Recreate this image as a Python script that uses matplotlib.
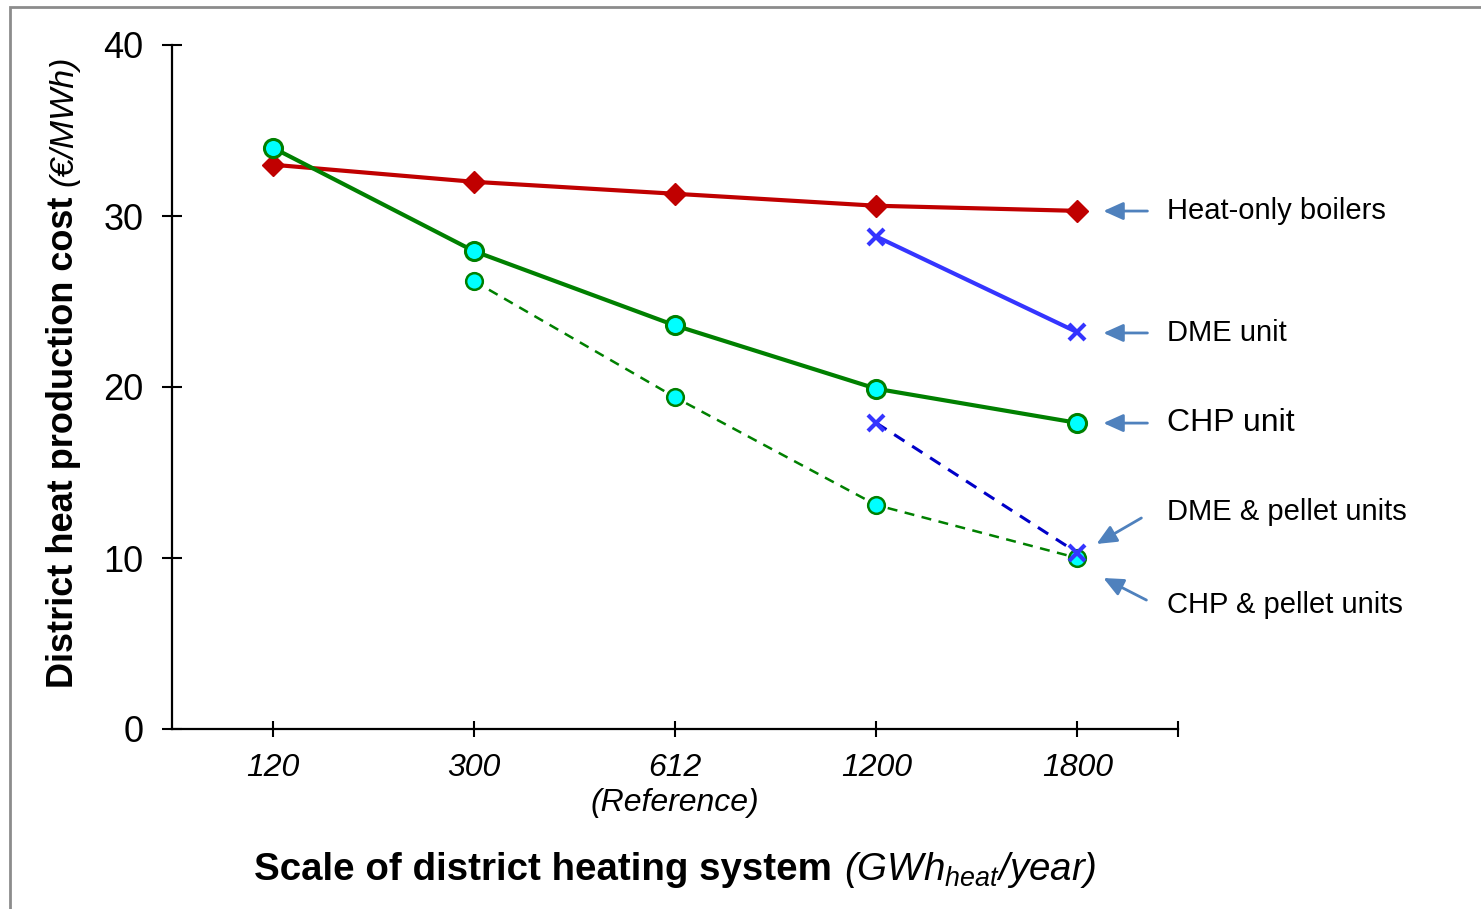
import matplotlib.pyplot as plt
import matplotlib.patches as patches
import numpy as np

plt.rcParams['font.family'] = ['Liberation Sans', 'DejaVu Sans']
plt.rcParams['mathtext.fontset'] = 'custom'
plt.rcParams['mathtext.rm'] = 'Liberation Sans'
plt.rcParams['mathtext.it'] = 'Liberation Sans:italic'
plt.rcParams['mathtext.bf'] = 'Liberation Sans:bold'

# category axis (GWh heat / year)
scales = ['120', '300', '612\n(Reference)', '1200', '1800']

# district heat production cost (EUR/MWh)
heat_only = [33.0, 32.0, 31.3, 30.6, 30.3]
chp_unit = [34.0, 27.95, 23.6, 19.9, 17.9]
chp_pellet = [None, 26.2, 19.4, 13.1, 10.0]
dme_unit = [None, None, None, 28.8, 23.2]
dme_pellet = [None, None, None, 17.9, 10.3]

series_labels = ['Heat-only boilers', 'DME unit', 'CHP unit',
                 'DME & pellet units', 'CHP & pellet units']


def to_arr(vals):
    return np.array([np.nan if v is None else v for v in vals], dtype=float)


W, H = 1481, 909
fig = plt.figure(figsize=(W/100, H/100), dpi=100)
ax = fig.add_axes([172/W, 180/H, (1178-172)/W, (729-45)/H])

x = np.arange(len(scales))

ax.plot(x, to_arr(heat_only), color='#C00000', lw=3, marker='D', ms=11.5,
        mfc='#C00000', mec='#C00000', zorder=3)
ax.plot(x, to_arr(chp_pellet), color='#008000', lw=1.8, ls=(0, (4, 3)),
        marker='o', ms=12, mfc='#00FFFF', mec='#008000', mew=1.8, zorder=3)
ax.plot(x, to_arr(dme_pellet), color='#0000C8', lw=2.2, ls=(0, (4, 3)),
        marker='x', ms=12, mec='#3535FF', mew=3, zorder=4)
ax.plot(x, to_arr(chp_unit), color='#008000', lw=3, marker='o', ms=13,
        mfc='#00FFFF', mec='#008000', mew=2.2, zorder=3)
ax.plot(x, to_arr(dme_unit), color='#3535FF', lw=3, marker='x', ms=12,
        mec='#3535FF', mew=3, zorder=3)

ax.set_xlim(-0.5, 4.5)
ax.set_ylim(0, 40)
ax.set_yticks([0, 10, 20, 30, 40])
ax.set_xticks(x)
ax.set_xticklabels(scales, fontstyle='italic', fontsize=23, linespacing=1.2)
ax.set_xticks([4.5], minor=True)
ax.tick_params(axis='y', labelsize=26, direction='inout', length=15, width=1.5, pad=13)
ax.tick_params(axis='x', which='both', direction='inout', length=11, width=1.5, pad=12)
for s in ['top', 'right']:
    ax.spines[s].set_visible(False)
for s in ['left', 'bottom']:
    ax.spines[s].set_linewidth(1.6)

# labels with arrows at the right side
label_y = [30.29, 23.16, 17.89, 12.69, 7.25]
arrow_tail = [(4.348, 30.29), (4.348, 23.16), (4.348, 17.89), (4.318, 12.34), (4.343, 7.54)]
arrow_head = [(4.129, 30.29), (4.129, 23.16), (4.129, 17.89), (4.095, 10.82), (4.129, 8.83)]
label_size = [21, 21, 23, 21, 21]
for lab, ly, tail, head, fs in zip(series_labels, label_y, arrow_tail, arrow_head, label_size):
    ax.annotate('', xy=head, xytext=tail, annotation_clip=False,
                arrowprops=dict(arrowstyle='-|>,head_length=0.6,head_width=0.27',
                                color='#4F81BD', lw=2, mutation_scale=20,
                                shrinkA=0, shrinkB=0))
    ax.text(4.443, ly, lab, fontsize=fs, ha='left', va='center', clip_on=False)

# axis titles: bold part followed by italic units
renderer = fig.canvas.get_renderer()

xl_bold = fig.text(254/W, 1 - 880/H, 'Scale of district heating system',
                   ha='left', va='baseline', fontsize=27.7, fontweight='bold')
bb = xl_bold.get_window_extent(renderer)
fig.text((bb.x1 + 12)/W, 1 - 880/H, r'(GWh$_{heat}$/year)',
         ha='left', va='baseline', fontsize=27.7, fontstyle='italic')

yl_bold = fig.text(64/W, 1 - 688/H, 'District heat production cost',
                   rotation=90, ha='center', va='bottom', fontsize=26, fontweight='bold')
bb = yl_bold.get_window_extent(renderer)
fig.text(64/W, (bb.y1 + 10)/H, '(€/MWh)',
         rotation=90, ha='center', va='bottom', fontsize=24.5, fontstyle='italic')

# outer frame of the original figure
fig.patches.append(patches.Rectangle((10/W, -0.5), 2, 0.5 + 1 - 6.5/H,
                                     transform=fig.transFigure, fill=False,
                                     edgecolor='#8C8C8C', lw=2))

fig.savefig('out.png', dpi=100)
